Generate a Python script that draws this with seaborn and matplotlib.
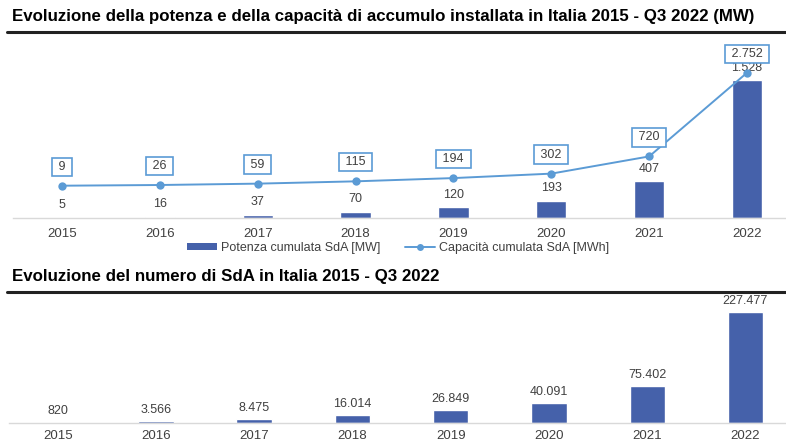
import matplotlib
matplotlib.use("Agg")
import matplotlib.pyplot as plt
import numpy as np
import pandas as pd
import seaborn as sns
from matplotlib.lines import Line2D
from matplotlib.patches import Patch

# ----------------------------------------------------------------------------
# Data
# ----------------------------------------------------------------------------
years = ["2015", "2016", "2017", "2018", "2019", "2020", "2021", "2022"]
potenza_mw = [5, 16, 37, 70, 120, 193, 407, 1528]
capacita_mwh = [9, 26, 59, 115, 194, 302, 720, 2752]
numero_sda = [820, 3566, 8475, 16014, 26849, 40091, 75402, 227477]

title_top = "Evoluzione della potenza e della capacità di accumulo installata in Italia 2015 - Q3 2022 (MW)"
title_bottom = "Evoluzione del numero di SdA in Italia 2015 - Q3 2022"
label_bar = "Potenza cumulata SdA [MW]"
label_line = "Capacità cumulata SdA [MWh]"

BAR_COLOR = "#4561AA"
LINE_COLOR = "#5B9BD5"
TEXT_COLOR = "#404040"
AXIS_COLOR = "#D9D9D9"

W, H = 786, 444


def fmt_it(v):
    return f"{v:,}".replace(",", ".")


def px_axes(fig, left, top, right, bottom):
    """Add axes from pixel coordinates (origin top-left)."""
    return fig.add_axes([left / W, 1 - bottom / H, (right - left) / W, (bottom - top) / H])


def style_axis(ax):
    for side in ["left", "right", "top"]:
        ax.spines[side].set_visible(False)
    ax.spines["bottom"].set_color(AXIS_COLOR)
    ax.spines["bottom"].set_linewidth(1.0)
    ax.set_yticks([])
    ax.set_ylabel("")
    ax.set_xlabel("")
    ax.set_xlim(-0.5, len(years) - 0.5)
    ax.tick_params(axis="x", which="major", length=0, pad=7, labelsize=9.5, labelcolor=TEXT_COLOR)
    ax.set_xticks(np.arange(-0.5, len(years), 1.0), minor=True)
    ax.tick_params(axis="x", which="minor", length=4, color=AXIS_COLOR, width=1.0)


sns.set_theme(style="white")
plt.rcParams["font.family"] = ["Liberation Sans", "DejaVu Sans"]

fig = plt.figure(figsize=(W / 100, H / 100), dpi=100)

# ----------------------------------------------------------------------------
# Top panel: potenza (bars) + capacita (line, secondary axis)
# ----------------------------------------------------------------------------
fig.text(12 / W, 1 - 16 / H, title_top, fontsize=12.2, fontweight="bold",
         color="black", ha="left", va="center")
fig.add_artist(Line2D([7 / W, 1.0], [1 - 32 / H] * 2, color="#222222", lw=2.2))

ax = px_axes(fig, 13, 40, 796, 218)
df_top = pd.DataFrame({"anno": years, "potenza": potenza_mw})
sns.barplot(data=df_top, x="anno", y="potenza", color=BAR_COLOR, width=0.31,
            saturation=1, ax=ax)
ax.set_ylim(0, 1971)
style_axis(ax)
for i, v in enumerate(potenza_mw):
    ax.annotate(fmt_it(v), (i, v), xytext=(0, 9), textcoords="offset points",
                ha="center", va="center", fontsize=9, color=TEXT_COLOR)

ax2 = ax.twinx()
df_line = pd.DataFrame({"pos": np.arange(len(years)), "capacita": capacita_mwh})
sns.lineplot(data=df_line, x="pos", y="capacita", color=LINE_COLOR, lw=1.4,
             marker="o", markersize=6, markeredgewidth=0, ax=ax2)
ax2.set_ylim(-775, 3546)
ax2.set_xlim(-0.5, len(years) - 0.5)
ax2.set_yticks([])
ax2.set_ylabel("")
for side in ["left", "right", "top", "bottom"]:
    ax2.spines[side].set_visible(False)
for i, v in enumerate(capacita_mwh):
    ax2.annotate(f" {fmt_it(v)} ", (i, v), xytext=(0, 13.7), textcoords="offset points",
                 ha="center", va="center", fontsize=9, color=TEXT_COLOR,
                 bbox=dict(boxstyle="square,pad=0.25", fc="white", ec=LINE_COLOR, lw=1.2))

handles = [
    Patch(facecolor=BAR_COLOR, edgecolor="none"),
    Line2D([], [], color=LINE_COLOR, lw=1.4, marker="o", markersize=5, markeredgewidth=0),
]
fig.legend(handles, [label_bar, label_line], loc="center", ncol=2,
           bbox_to_anchor=(398 / W, 1 - 248 / H), frameon=False, fontsize=9,
           labelcolor=TEXT_COLOR, handlelength=2.4, handleheight=0.55,
           handletextpad=0.3, columnspacing=2.0)

# ----------------------------------------------------------------------------
# Bottom panel: numero di SdA
# ----------------------------------------------------------------------------
fig.text(12 / W, 1 - 277 / H, title_bottom, fontsize=12.2, fontweight="bold",
         color="black", ha="left", va="center")
fig.add_artist(Line2D([7 / W, 1.0], [1 - 292 / H] * 2, color="#222222", lw=2.2))

axb = px_axes(fig, 8.5, 295, 794.6, 423)
df_bot = pd.DataFrame({"anno": years, "numero": numero_sda})
sns.barplot(data=df_bot, x="anno", y="numero", color=BAR_COLOR, width=0.36,
            saturation=1, ax=axb)
axb.set_ylim(0, 262300)
style_axis(axb)
axb.tick_params(axis="x", which="major", pad=5)
for i, v in enumerate(numero_sda):
    axb.annotate(fmt_it(v), (i, v), xytext=(0, 8), textcoords="offset points",
                 ha="center", va="center", fontsize=9, color=TEXT_COLOR)

fig.savefig("out.png", dpi=100)
plt.close(fig)
